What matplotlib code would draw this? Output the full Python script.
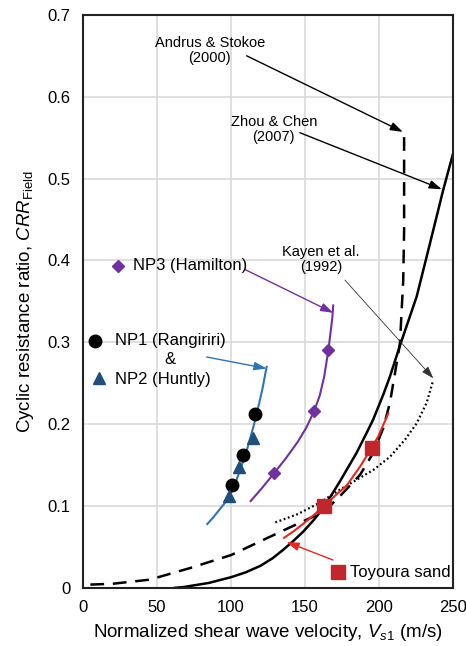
import matplotlib
matplotlib.use("Agg")
import matplotlib.pyplot as plt
import numpy as np

plt.rcParams['font.family'] = ['Liberation Sans', 'DejaVu Sans']
plt.rcParams['mathtext.fontset'] = 'custom'
plt.rcParams['mathtext.rm'] = 'Liberation Sans'
plt.rcParams['mathtext.it'] = 'Liberation Sans:italic'

# Andrus & Stokoe (2000) - dashed
andrus_v = [5, 20, 45, 72, 100, 120, 140, 158, 164.6, 173.6, 187.2, 196.2, 202.9, 207.4, 210.8,
            214.2, 216.4, 217, 217]
andrus_c = [0.004, 0.005, 0.010, 0.024, 0.040, 0.057, 0.074, 0.089, 0.096, 0.112, 0.138, 0.165,
            0.195, 0.226, 0.262, 0.299, 0.376, 0.437, 0.556]

# Zhou & Chen (2007) - solid
zhou_v = [62, 68, 85, 100, 110, 120, 128, 135, 142, 149, 156, 163, 173.6, 184.9, 191.6, 196.2,
          202.9, 207.4, 214.2, 225.5, 234.5, 243.4, 250]
zhou_c = [0.0, 0.001, 0.006, 0.013, 0.019, 0.027, 0.036, 0.046, 0.057, 0.069, 0.083, 0.099,
          0.130, 0.165, 0.189, 0.206, 0.236, 0.258, 0.296, 0.356, 0.421, 0.486, 0.530]

# Kayen et al. (1992) - dotted
kayen_v = [130, 145, 160, 173.6, 184.9, 196.2, 207.4, 217.6, 225.5, 232.2, 236.7]
kayen_c = [0.080, 0.090, 0.104, 0.120, 0.132, 0.144, 0.160, 0.181, 0.201, 0.226, 0.254]

# NP1 (Rangiriri)
np1_v = [100.4, 108.3, 116.2]
np1_c = [0.126, 0.162, 0.213]
# NP2 (Huntly)
np2_v = [98.9, 105.2, 114.6]
np2_c = [0.112, 0.148, 0.183]
# NP1/NP2 fit
np12_fit_v = [84, 88, 92, 96, 99.3, 103, 107, 111, 115.5, 119, 121.5, 124.1]
np12_fit_c = [0.078, 0.086, 0.095, 0.104, 0.113, 0.128, 0.148, 0.170, 0.199, 0.225, 0.245, 0.270]

# NP3 (Hamilton)
np3_v = [129.1, 156.2, 165.8]
np3_c = [0.140, 0.216, 0.290]
np3_fit_v = [113.3, 121, 129.1, 137, 145, 151, 156.2, 160, 163, 165.8, 167.5, 168.5, 169.1]
np3_fit_c = [0.106, 0.122, 0.140, 0.158, 0.178, 0.196, 0.216, 0.235, 0.258, 0.290, 0.315, 0.330, 0.345]

# Toyoura sand
toy_v = [162.8, 195.0]
toy_c = [0.100, 0.171]
toy_fit_v = [135.8, 143, 150, 156, 162.8, 170, 178.2, 187.2, 195.0, 199.5, 206.3]
toy_fit_c = [0.061, 0.070, 0.080, 0.089, 0.100, 0.112, 0.125, 0.148, 0.171, 0.185, 0.213]

x_ticks = [0, 50, 100, 150, 200, 250]
y_ticks = [0, 0.1, 0.2, 0.3, 0.4, 0.5, 0.6, 0.7]

blue_line = '#2e75b6'
blue_mark = '#1f4e79'
purple = '#7030a0'
red_line = '#e8271f'
red_mark = '#c0272d'

fig = plt.figure(figsize=(4.66, 6.46), dpi=100)
ax = fig.add_axes([0.178, 0.09, 0.794, 0.887])

ax.plot(andrus_v, andrus_c, color='black', lw=1.8, ls=(0, (5.5, 3.5)))
ax.plot(zhou_v, zhou_c, color='black', lw=1.8)
ax.plot(kayen_v, kayen_c, color='black', lw=1.6, ls=(0, (0.8, 1.2)))

ax.plot(np12_fit_v, np12_fit_c, color=blue_line, lw=1.5)
ax.plot(np1_v, np1_c, 'o', color='black', ms=9, ls='none')
ax.plot(np2_v, np2_c, '^', color=blue_mark, ms=8.5, ls='none')

ax.plot(np3_fit_v, np3_fit_c, color=purple, lw=1.5)
ax.plot(np3_v, np3_c, 'D', color=purple, ms=6.5, ls='none')

ax.plot(toy_fit_v, toy_fit_c, color=red_line, lw=1.5)
ax.plot(toy_v, toy_c, 's', color=red_mark, ms=9.5, ls='none')

# text labels and arrows
head = '-|>,head_length=0.75,head_width=0.25'
ax.text(85.8, 0.657, 'Andrus & Stokoe\n(2000)', ha='center', va='center', fontsize=10.5, linespacing=1.1)
ax.text(128.9, 0.5595, 'Zhou & Chen\n(2007)', ha='center', va='center', fontsize=10.5, linespacing=1.1)
ax.text(160.8, 0.4007, 'Kayen et al.\n(1992)', ha='center', va='center', fontsize=10.5, linespacing=1.1)

ax.annotate('', xy=(216.2, 0.557), xytext=(110.6, 0.650),
            arrowprops=dict(arrowstyle=head, color='black', lw=1.0, shrinkA=0, shrinkB=0))
ax.annotate('', xy=(242.5, 0.487), xytext=(146.6, 0.556),
            arrowprops=dict(arrowstyle=head, color='black', lw=1.0, shrinkA=0, shrinkB=0))
ax.annotate('', xy=(236.7, 0.256), xytext=(177.0, 0.376),
            arrowprops=dict(arrowstyle=head, color='#333333', lw=0.6, shrinkA=0, shrinkB=0))
ax.annotate('', xy=(124.1, 0.268), xytext=(83.6, 0.282),
            arrowprops=dict(arrowstyle=head, color=blue_line, lw=1.0, shrinkA=0, shrinkB=0))
ax.annotate('', xy=(169.1, 0.336), xytext=(109.4, 0.389),
            arrowprops=dict(arrowstyle=head, color=purple, lw=1.0, shrinkA=0, shrinkB=0))
ax.annotate('', xy=(137.5, 0.056), xytext=(169.0, 0.034),
            arrowprops=dict(arrowstyle=head, color=red_line, lw=1.0, shrinkA=0, shrinkB=0))

# in-plot legend entries
tr = ax.transAxes
ax.plot([0.032], [0.431], 'o', color='black', ms=9, transform=tr, clip_on=False)
ax.text(0.086, 0.431, 'NP1 (Rangiriri)', transform=tr, fontsize=12, va='center')
ax.text(0.235, 0.398, '&', transform=tr, fontsize=12, va='center', ha='center')
ax.plot([0.044], [0.366], '^', color=blue_mark, ms=8.5, transform=tr, clip_on=False)
ax.text(0.086, 0.364, 'NP2 (Huntly)', transform=tr, fontsize=12, va='center')
ax.plot([0.095], [0.562], 'D', color=purple, ms=6.5, transform=tr)
ax.text(0.136, 0.562, 'NP3 (Hamilton)', transform=tr, fontsize=12, va='center')
ax.plot([0.69], [0.027], 's', color=red_mark, ms=9.5, transform=tr)
ax.text(0.722, 0.027, 'Toyoura sand', transform=tr, fontsize=12, va='center')

ax.set_xlim(0, 250)
ax.set_ylim(0, 0.7)
ax.set_xticks(x_ticks)
ax.set_yticks(y_ticks)
ax.set_yticklabels(['0', '0.1', '0.2', '0.3', '0.4', '0.5', '0.6', '0.7'])
ax.tick_params(length=0, labelsize=12, pad=9)
ax.grid(True, color='#d9d9d9', lw=1.2)
ax.set_axisbelow(True)
for s in ax.spines.values():
    s.set_color('#222222')
    s.set_linewidth(1.5)

ax.set_xlabel(r'Normalized shear wave velocity, $V_{s\mathit{1}}$ (m/s)', fontsize=13.5, labelpad=5)
ax.set_ylabel(r'Cyclic resistance ratio, $\mathit{CRR}_{\mathrm{Field}}$', fontsize=13.5, labelpad=8)

fig.savefig('out.png', dpi=100)
